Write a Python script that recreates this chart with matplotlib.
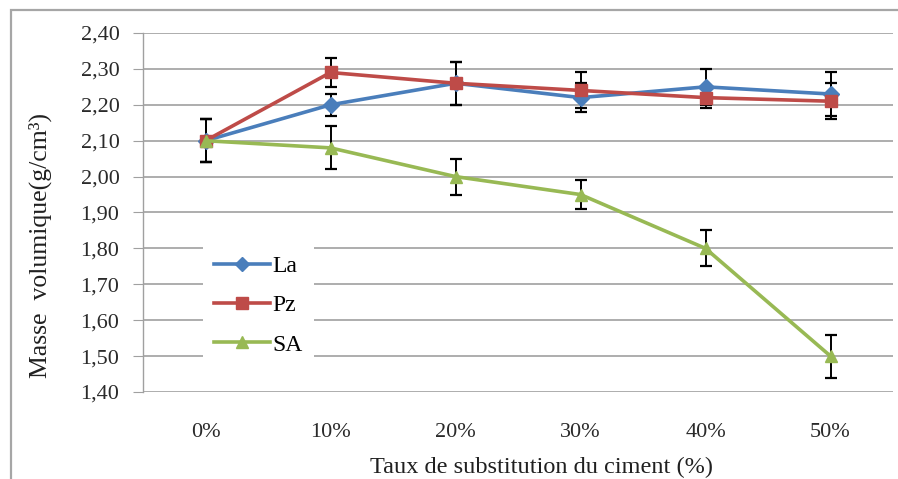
import matplotlib
matplotlib.use("Agg")
import matplotlib.pyplot as plt
from matplotlib.patches import Rectangle
from matplotlib.lines import Line2D
from matplotlib.ticker import FuncFormatter, MultipleLocator

plt.rcParams['font.family'] = ['Liberation Serif', 'DejaVu Serif']

categories = ["0%", "10%", "20%", "30%", "40%", "50%"]
la = [2.10, 2.20, 2.26, 2.22, 2.25, 2.23]
la_err = [0.06, 0.03, 0.06, 0.04, 0.05, 0.06]
pz = [2.10, 2.29, 2.26, 2.24, 2.22, 2.21]
pz_err = [0.06, 0.04, 0.06, 0.05, 0.03, 0.05]
sa = [2.10, 2.08, 2.00, 1.95, 1.80, 1.50]
sa_err = [0.06, 0.06, 0.05, 0.04, 0.05, 0.06]

W, H = 898, 479
fig = plt.figure(figsize=(W / 100, H / 100), dpi=100)

# outer chart frame
fig.patches.append(Rectangle((11 / W, -0.05), 1.2, 1 - 10 / H + 0.05,
                             transform=fig.transFigure, fill=False,
                             edgecolor='#a6a6a6', linewidth=1.6))

ax = fig.add_axes([143 / W, 1 - 392 / H, (893 - 143) / W, (392 - 33) / H])

x = list(range(len(categories)))
series = [
    ("La", la, la_err, '#4a7ebb', 'D', 8),
    ("Pz", pz, pz_err, '#be4b48', 's', 9),
    ("SA", sa, sa_err, '#98b954', '^', 9),
]
handles = []
for name, vals, errs, col, mk, ms in series:
    ax.errorbar(x, vals, yerr=errs, color=col, marker=mk, markersize=ms,
                linewidth=2.6, ecolor='black', elinewidth=1.4, capsize=4,
                capthick=1.6, zorder=3)
    handles.append(Line2D([], [], color=col, marker=mk, markersize=ms - 1,
                          linewidth=2.6, label=name))

ax.set_xlim(-0.5, 5.5)
ax.set_ylim(1.40, 2.40)
ax.yaxis.set_major_locator(MultipleLocator(0.1))
ax.yaxis.set_major_formatter(FuncFormatter(lambda v, p: f"{v:.2f}".replace('.', ',')))
ax.set_xticks(x)
ax.set_xticklabels(categories)

ax.grid(axis='y', color='#a0a0a0', linewidth=1.2)
ax.set_axisbelow(True)
for s in ['top', 'right', 'bottom']:
    ax.spines[s].set_visible(False)
ax.spines['left'].set_color('#a0a0a0')
ax.spines['left'].set_linewidth(1.0)
ax.tick_params(axis='y', length=7, color='#a0a0a0', labelsize=16,
               labelcolor='#2a2a2a', pad=10)
ax.tick_params(axis='x', length=0, labelsize=16, labelcolor='#2a2a2a', pad=22)

fig.text(40 / W, 1 - 245 / H, "Masse  volumique(g/cm³)", rotation=90,
         ha='center', va='center', fontsize=18.5, color='#202020')
fig.text(541 / W, 1 - 467 / H, "Taux de substitution du ciment (%)",
         ha='center', va='center', fontsize=17.5, color='#202020')

ax.legend(handles=handles, loc='upper left',
          bbox_to_anchor=(60 / 750, (392 - 245) / 359),
          frameon=True, fancybox=False, edgecolor='none', facecolor='white',
          framealpha=1, fontsize=17, handlelength=2.4, handletextpad=0.1,
          labelspacing=0.75, borderpad=0.45, borderaxespad=0)

fig.savefig("out.png", dpi=100)
